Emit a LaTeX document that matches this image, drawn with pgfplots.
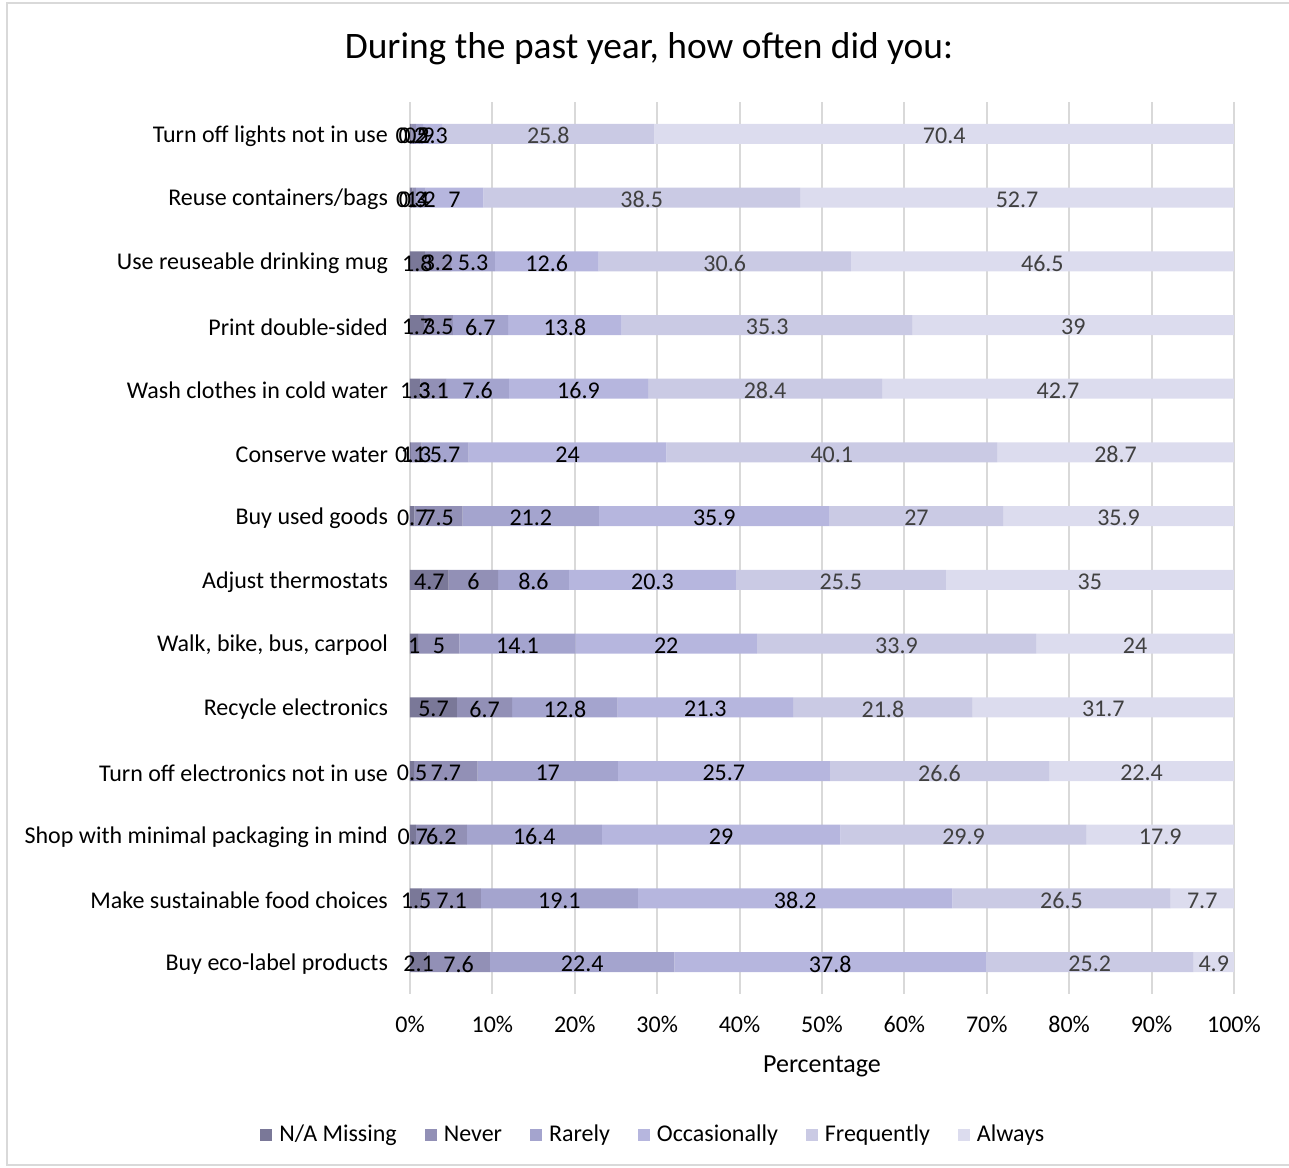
\documentclass[border=0pt]{standalone}
\usepackage{fontspec}
\setmainfont{Carlito}
\usepackage{pgfplots}
\usepackage{pgfplotstable}
\pgfplotsset{compat=1.18}
\definecolor{cNA}{HTML}{7A7898}
\definecolor{cNever}{HTML}{9290B6}
\definecolor{cRarely}{HTML}{A4A4CE}
\definecolor{cOcc}{HTML}{B6B6DE}
\definecolor{cFreq}{HTML}{CACAE4}
\definecolor{cAlways}{HTML}{DCDCEE}
\definecolor{frame}{HTML}{D9D9D9}
\definecolor{grid}{HTML}{D9D9D9}
\definecolor{lblgray}{HTML}{404040}
\pgfplotstableread{
idx NA Never Rarely Occ Freq Always
0 0.2 0.5 0.9 2.3 25.8 70.4
1 0.3 0.4 1.2 7 38.5 52.7
2 1.8 3.2 5.3 12.6 30.6 46.5
3 1.7 3.5 6.7 13.8 35.3 39
4 1.3 3.1 7.6 16.9 28.4 42.7
5 0.1 1.3 5.7 24 40.1 28.7
6 0.7 7.5 21.2 35.9 27 35.9
7 4.7 6 8.6 20.3 25.5 35
8 1 5 14.1 22 33.9 24
9 5.7 6.7 12.8 21.3 21.8 31.7
10 0.5 7.7 17 25.7 26.6 22.4
11 0.7 6.2 16.4 29 29.9 17.9
12 1.5 7.1 19.1 38.2 26.5 7.7
13 2.1 7.6 22.4 37.8 25.2 4.9
}\data
\newcommand\tot{(\thisrow{NA}+\thisrow{Never}+\thisrow{Rarely}+\thisrow{Occ}+\thisrow{Freq}+\thisrow{Always})}
\newcommand\seg[3]{\addplot[fill=#2, draw=none,
  nodes near coords,
  every node near coord/.append style={text=#3, anchor=center, yshift=-1pt}]
  table[x expr={100*\thisrow{#1}/\tot}, y=idx, meta=#1] {\data};}
\begin{document}
\begin{tikzpicture}
\path[use as bounding box] (-205pt,-86.5pt) rectangle (439.5pt,497pt);
\draw[color=frame, line width=1pt] (-201.5pt,-85.5pt) rectangle (441pt,495.5pt);
\node[font=\fontsize{18.7}{22}\selectfont, anchor=center] at (119.5pt,472.5pt) {During the past year, how often did you:};
\begin{axis}[
  at={(0,0)}, anchor=south west,
  scale only axis, width=412pt, height=446pt,
  xbar stacked, bar width=10pt,
  xmin=0, xmax=100.01, ymin=-0.5, ymax=13.5, y dir=reverse,
  point meta=explicit symbolic,
  ytick={0,...,13},
  yticklabels={Turn off lights not in use, Reuse containers/bags, Use reuseable drinking mug, Print double-sided, Wash clothes in cold water, Conserve water, Buy used goods, Adjust thermostats, {Walk, bike, bus, carpool}, Recycle electronics, Turn off electronics not in use, Shop with minimal packaging in mind, Make sustainable food choices, Buy eco-label products},
  xtick={0,10,...,100},
  xticklabel={\pgfmathprintnumber[assume math mode=true]{\tick}\%},
  xticklabel style={font=\fontsize{12}{14}\selectfont, yshift=-7.5pt},
  yticklabel style={font=\fontsize{12}{14}\selectfont, xshift=-7.5pt, yshift=-1pt},
  major tick length=0pt,
  axis line style={draw=none},
  xmajorgrids, major grid style={color=grid, line width=1pt},
  xlabel={Percentage},
  x label style={at={(axis description cs:0.5,0)}, anchor=center, yshift=-36pt, font=\fontsize{13}{15}\selectfont},
  nodes near coords style={font=\fontsize{12}{14}\selectfont},
  legend style={at={(0.2965,-0.158)}, anchor=center, legend columns=6, draw=none, fill=none,
    font=\fontsize{12}{14}\selectfont,
    /tikz/every odd column/.append style={column sep=1.5pt},
    /tikz/every even column/.append style={column sep=12pt}},
  legend image code/.code={\fill[#1] (0pt,-3pt) rectangle (6pt,3pt);},
]
\seg{NA}{cNA}{black}
\addlegendentry{N/A Missing}
\seg{Never}{cNever}{black}
\addlegendentry{Never}
\seg{Rarely}{cRarely}{black}
\addlegendentry{Rarely}
\seg{Occ}{cOcc}{black}
\addlegendentry{Occasionally}
\seg{Freq}{cFreq}{lblgray}
\addlegendentry{Frequently}
\seg{Always}{cAlways}{lblgray}
\addlegendentry{Always}
\end{axis}
\end{tikzpicture}
\end{document}
